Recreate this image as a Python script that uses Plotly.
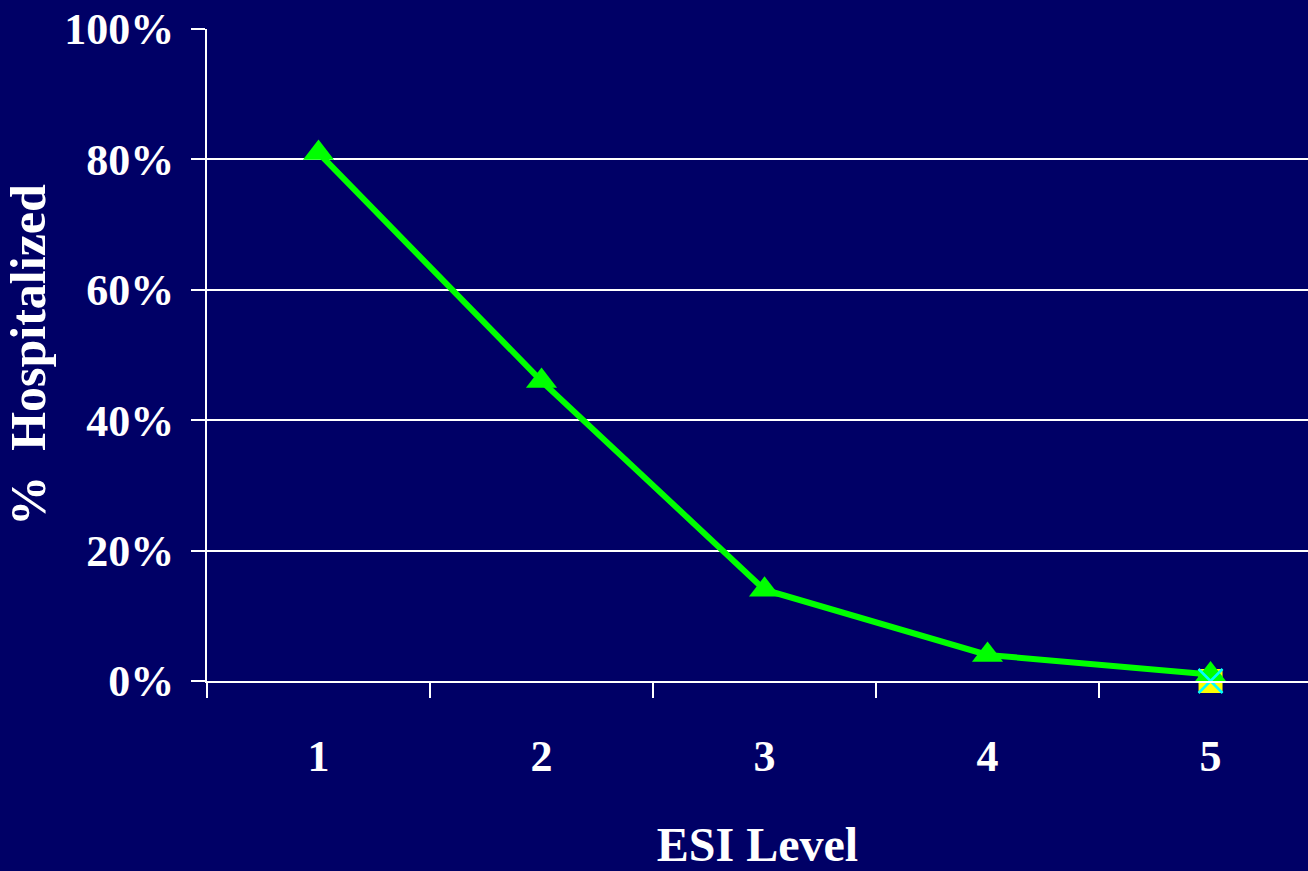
import plotly.graph_objects as go

categories = ["1", "2", "3", "4", "5"]
hospitalized = [0.81, 0.46, 0.14, 0.04, 0.01]
series_square = [None, None, None, None, 0.0]
series_x = [None, None, None, None, 0.0]
y_ticks = [0, 0.2, 0.4, 0.6, 0.8, 1.0]
y_tick_labels = ["0%", "20%", "40%", "60%", "80%", "100%"]

BG = "#000066"
FONT = "Liberation Serif"

fig = go.Figure()
fig.add_trace(go.Scatter(
    x=categories, y=series_square, mode="markers", cliponaxis=False,
    marker=dict(symbol="square", size=24, color="#FFFF00", line=dict(width=0)),
    showlegend=False, hoverinfo="skip"))
fig.add_trace(go.Scatter(
    x=categories, y=hospitalized, mode="lines+markers", cliponaxis=False,
    line=dict(color="#00FF00", width=6),
    marker=dict(symbol="triangle-up", size=27, color="#00FF00"),
    showlegend=False))
fig.add_trace(go.Scatter(
    x=categories, y=series_x, mode="markers", cliponaxis=False,
    marker=dict(symbol="x-thin", size=24, line=dict(color="#00FFFF", width=2.5)),
    showlegend=False, hoverinfo="skip"))

fig.update_layout(
    width=1308, height=871,
    paper_bgcolor=BG, plot_bgcolor=BG,
    margin=dict(l=207, r=0, t=29, b=190),
    font=dict(family=FONT, color="white", size=44),
)
fig.update_xaxes(
    type="category", range=[-0.5, 4.437],
    tickson="boundaries", ticks="outside", ticklen=15, tickwidth=2, tickcolor="white",
    showgrid=False, showline=True, linecolor="white", linewidth=2,
    tickfont=dict(family=FONT, size=44, color="white", weight="bold"),
    ticklabelstandoff=35,
    title=dict(text="<b>ESI Level</b>", font=dict(family=FONT, size=48, color="white"), standoff=50),
    zeroline=False,
)
fig.update_yaxes(
    range=[0, 1.0], tickvals=y_ticks, ticktext=y_tick_labels,
    ticks="outside", ticklen=14, tickwidth=2, tickcolor="white",
    showgrid=True, gridcolor="white", gridwidth=2,
    showline=True, linecolor="white", linewidth=2,
    tickfont=dict(family=FONT, size=44, color="white", weight="bold"),
    ticklabelstandoff=8,
    title=dict(text="<b>%  Hospitalized</b>", font=dict(family=FONT, size=50, color="white"), standoff=22),
    zeroline=False,
)

fig.write_html("out.html", config={"displayModeBar": False},
               post_script="document.body.style.margin='0';document.body.style.background='#000066';")
